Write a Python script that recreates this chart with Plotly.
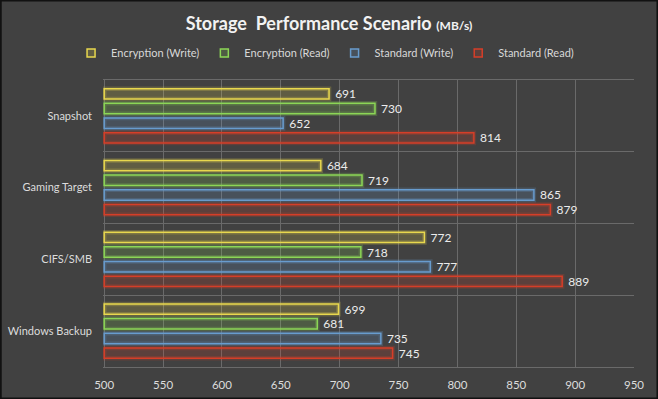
import numpy as np
import plotly.graph_objects as go

categories = ["Snapshot", "Gaming Target", "CIFS/SMB", "Windows Backup"]
enc_write = [691, 684, 772, 699]
enc_read = [730, 719, 718, 681]
std_write = [652, 865, 777, 735]
std_read = [814, 879, 889, 745]

series_names = ["Encryption (Write)", "Encryption (Read)", "Standard (Write)", "Standard (Read)"]
series_values = [enc_write, enc_read, std_write, std_read]
line_rgb = [(232, 216, 78), (140, 214, 86), (104, 156, 206), (214, 62, 40)]

BASE = 500
x_ticks = [500, 550, 600, 650, 700, 750, 800, 850, 900, 950]

W, H = 658, 399
L, R, T, B = 102.8, 24, 80, 32
GRID = "#6a6a6a"

fig = go.Figure()
for i, (name, vals, rgb) in enumerate(zip(series_names, series_values, line_rgb)):
    v = np.array(vals)
    r, g, b = rgb
    lc = f"rgb({r},{g},{b})"
    fc = f"rgba({r},{g},{b},0.19)"
    glow = f"rgba({r},{g},{b},0.22)"
    # soft glow under the outline
    fig.add_trace(go.Bar(
        y=categories, x=v - BASE, base=BASE, orientation="h", name=name,
        offsetgroup=str(i), showlegend=False, hoverinfo="skip",
        marker=dict(color="rgba(0,0,0,0)", line=dict(color=glow, width=4.5)),
    ))
    fig.add_trace(go.Bar(
        y=categories, x=v - BASE, base=BASE, orientation="h", name=name,
        offsetgroup=str(i), showlegend=False,
        marker=dict(color=fc, line=dict(color=lc, width=1.5)),
        text=["\u00a0" + str(a) for a in vals], textposition="outside",
        cliponaxis=False, constraintext="none",
        textfont=dict(color="#ececec", size=12, family="Lato"),
    ))
# legend entries (small square keys)
for name, rgb in zip(series_names, line_rgb):
    r, g, b = rgb
    fig.add_trace(go.Scatter(
        x=[None], y=[None], mode="markers", name=name,
        marker=dict(symbol="square", size=8, color=f"rgba({r},{g},{b},0.19)",
                    line=dict(color=f"rgb({r},{g},{b})", width=1.5)),
    ))

pw = W - L - R
ph = H - T - B
fig.add_shape(type="rect", xref="paper", yref="paper",
              x0=-L / pw, x1=1 + R / pw, y0=-B / ph, y1=1 + T / ph,
              line=dict(color="#111111", width=3), layer="above")

fig.update_layout(
    width=W, height=H,
    margin=dict(l=L, r=R, t=T, b=B, autoexpand=False),
    paper_bgcolor="#414141", plot_bgcolor="#414141",
    barmode="group", bargap=0.18, bargroupgap=0.3,
    title=dict(
        text="<b>Storage\u00a0 Performance Scenario</b> <b><span style='font-size:12px'>(MB/s)</span></b>",
        x=0.5, xref="container", xanchor="center", y=1 - 24 / H, yref="container", yanchor="middle",
        font=dict(family="Lato", size=18, color="#f2f2f2"),
    ),
    legend=dict(
        orientation="h", x=0.494, xref="container", xanchor="center",
        y=1 - 53 / H, yref="container", yanchor="middle",
        font=dict(family="Lato", size=11, color="#d8d8d8"),
        bgcolor="rgba(0,0,0,0)", itemwidth=30, traceorder="normal",
    ),
    xaxis=dict(
        range=[499, 950], tickvals=x_ticks, ticktext=[str(t) for t in x_ticks],
        showgrid=True, gridcolor=GRID, gridwidth=1, zeroline=False,
        showline=True, mirror=True, linecolor=GRID, linewidth=1,
        ticks="", automargin=False, ticklabelstandoff=7,
        tickfont=dict(family="Lato", size=11.5, color="#dcdcdc"),
    ),
    yaxis=dict(
        autorange="reversed", type="category", tickson="boundaries",
        showgrid=True, gridcolor=GRID, gridwidth=1, ticks="", ticklen=0,
        showline=False, automargin=False, ticklabelstandoff=10,
        tickfont=dict(family="Lato", size=11, color="#dcdcdc"),
    ),
    font=dict(family="Lato"),
)

fig.write_html("out.html", config={"displayModeBar": False},
               post_script="document.body.style.margin='0';")
